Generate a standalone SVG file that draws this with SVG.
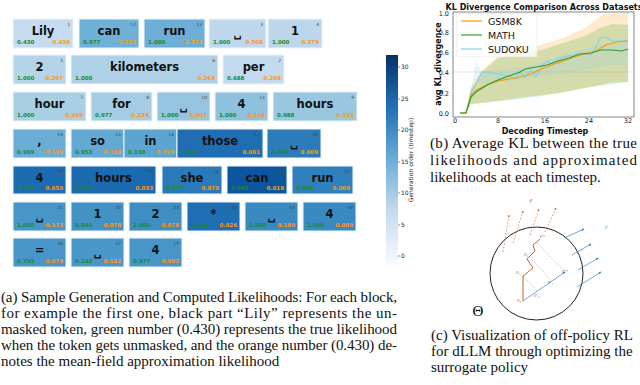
<svg xmlns="http://www.w3.org/2000/svg" width="640" height="385" viewBox="0 0 640 385">
<defs>
<style>
.box{stroke:#eef4fa;stroke-width:1}
.tok{font-family:"DejaVu Sans",sans-serif;font-weight:bold;font-size:11.5px;fill:#111;text-anchor:middle}
.g{font-family:"DejaVu Sans",sans-serif;font-weight:bold;font-size:5.5px;fill:#1a8c1a}
.o{font-family:"DejaVu Sans",sans-serif;font-weight:bold;font-size:5.5px;fill:#ff9900;text-anchor:end}
.i{font-family:"DejaVu Sans",sans-serif;font-size:4.5px;fill:#444;text-anchor:end}
.cap{font-family:"Liberation Serif",serif;font-size:15px;fill:#111}
.tick{font-family:"DejaVu Sans",sans-serif;font-size:6px;fill:#222}
.ptick{font-family:"DejaVu Sans",sans-serif;font-size:6.5px;fill:#222}
.plab{font-family:"DejaVu Sans",sans-serif;font-weight:bold;font-size:8px;fill:#111}
.leg{font-family:"DejaVu Sans",sans-serif;font-size:9.5px;fill:#111}
.sm{font-family:"Liberation Serif",serif;font-style:italic;font-size:5px}
</style>
<linearGradient id="cb" x1="0" y1="1" x2="0" y2="0">
<stop offset="0" stop-color="#f7fbff"/>
<stop offset="0.25" stop-color="#c6dbef"/>
<stop offset="0.5" stop-color="#6baed6"/>
<stop offset="0.75" stop-color="#2171b5"/>
<stop offset="1" stop-color="#08306b"/>
</linearGradient>
<marker id="ab" viewBox="0 0 6 6" refX="5" refY="3" markerWidth="4" markerHeight="4" orient="auto"><path d="M0,0 L6,3 L0,6 z" fill="#3a7fc0"/></marker>
<marker id="ao" viewBox="0 0 6 6" refX="5" refY="3" markerWidth="4" markerHeight="4" orient="auto"><path d="M0,0 L6,3 L0,6 z" fill="#d2691e"/></marker>
</defs>
<rect width="640" height="385" fill="#fff"/>

<!-- (a) token blocks -->
<g id="tokens">
<g id="t1"><rect class="box" x="13" y="19" width="60" height="29" fill="#c6dbef"/><text class="tok" x="43" y="35">Lily</text><text class="g" x="17" y="43.5">0.430</text><text class="o" x="70" y="43.5">0.430</text><text class="i" x="70" y="26">1</text></g>
<g id="t2"><rect class="box" x="79" y="19" width="60" height="29" fill="#6fb0d7"/><text class="tok" x="109" y="35">can</text><text class="g" x="83" y="43.5">0.977</text><text class="o" x="136" y="43.5">0.287</text><text class="i" x="136" y="26">12</text></g>
<g id="t3"><rect class="box" x="144" y="19" width="61" height="29" fill="#6caed6"/><text class="tok" x="174.5" y="35">run</text><text class="g" x="148" y="43.5">1.000</text><text class="o" x="202" y="43.5">0.373</text><text class="i" x="202" y="26">13</text></g>
<g id="t4"><rect class="box" x="209" y="19" width="57" height="29" fill="#bfd8ed"/><text class="tok" x="237.5" y="37">␣</text><text class="g" x="213" y="43.5">1.000</text><text class="o" x="263" y="43.5">0.508</text><text class="i" x="263" y="26">3</text></g>
<g id="t5"><rect class="box" x="268" y="19" width="54" height="29" fill="#bcd7eb"/><text class="tok" x="295" y="35">1</text><text class="g" x="272" y="43.5">1.000</text><text class="o" x="319" y="43.5">0.379</text><text class="i" x="319" y="26">4</text></g>

<g id="t6"><rect class="box" x="13" y="55" width="53" height="29" fill="#b5d4e9"/><text class="tok" x="39.5" y="71">2</text><text class="g" x="17" y="79.5">1.000</text><text class="o" x="63" y="79.5">0.297</text><text class="i" x="63" y="62">5</text></g>
<g id="t7"><rect class="box" x="71" y="55" width="147" height="29" fill="#afd1e7"/><text class="tok" x="144.5" y="71">kilometers</text><text class="g" x="75" y="79.5">1.000</text><text class="o" x="215" y="79.5">0.264</text><text class="i" x="215" y="62">6</text></g>
<g id="t8"><rect class="box" x="223" y="55" width="61" height="29" fill="#c4daee"/><text class="tok" x="253.5" y="71">per</text><text class="g" x="227" y="79.5">0.688</text><text class="o" x="281" y="79.5">0.208</text><text class="i" x="281" y="62">2</text></g>

<g id="t9"><rect class="box" x="13" y="92" width="73" height="29" fill="#a9cfe5"/><text class="tok" x="49.5" y="108">hour</text><text class="g" x="17" y="116.5">1.000</text><text class="o" x="83" y="116.5">0.269</text><text class="i" x="83" y="99">7</text></g>
<g id="t10"><rect class="box" x="91" y="92" width="61" height="29" fill="#a4cce3"/><text class="tok" x="121.5" y="108">for</text><text class="g" x="95" y="116.5">0.977</text><text class="o" x="149" y="116.5">0.234</text><text class="i" x="149" y="99">8</text></g>
<g id="t11"><rect class="box" x="157" y="92" width="53" height="29" fill="#94c4df"/><text class="tok" x="183.5" y="110">␣</text><text class="g" x="161" y="116.5">1.000</text><text class="o" x="207" y="116.5">0.307</text><text class="i" x="207" y="99">10</text></g>
<g id="t12"><rect class="box" x="215" y="92" width="53" height="29" fill="#8dc1dd"/><text class="tok" x="241.5" y="108">4</text><text class="g" x="219" y="116.5">1.000</text><text class="o" x="265" y="116.5">0.146</text><text class="i" x="265" y="99">11</text></g>
<g id="t13"><rect class="box" x="273" y="92" width="84" height="29" fill="#98c7df"/><text class="tok" x="315" y="108">hours</text><text class="g" x="277" y="116.5">0.988</text><text class="o" x="354" y="116.5">0.353</text><text class="i" x="354" y="99">9</text></g>

<g id="t14"><rect class="box" x="13" y="129" width="53" height="29" fill="#6aaed6"/><text class="tok" x="39.5" y="145">,</text><text class="g" x="17" y="153.5">0.969</text><text class="o" x="63" y="153.5">0.199</text><text class="i" x="63" y="136">14</text></g>
<g id="t15"><rect class="box" x="71" y="129" width="53" height="29" fill="#64a9d3"/><text class="tok" x="97.5" y="145">so</text><text class="g" x="75" y="153.5">0.953</text><text class="o" x="121" y="153.5">0.186</text><text class="i" x="121" y="136">15</text></g>
<g id="t16"><rect class="box" x="124" y="129" width="53" height="29" fill="#5da5d1"/><text class="tok" x="150.5" y="145">in</text><text class="g" x="128" y="153.5">0.130</text><text class="o" x="174" y="153.5">0.028</text><text class="i" x="174" y="136">16</text></g>
<g id="t17"><rect class="box" x="177" y="129" width="86" height="29" fill="#1f6eb3"/><text class="tok" x="220" y="145">those</text><text class="g" x="181" y="153.5">0.860</text><text class="o" x="260" y="153.5">0.001</text><text class="i" x="260" y="136">17</text></g>
<g id="t18"><rect class="box" x="267" y="129" width="54" height="29" fill="#2c7cba"/><text class="tok" x="294" y="147">␣</text><text class="g" x="271" y="153.5">0.000</text><text class="o" x="318" y="153.5">0.009</text><text class="i" x="318" y="136">18</text></g>

<g id="t19"><rect class="box" x="13" y="166" width="53" height="28" fill="#1d6cb1"/><text class="tok" x="39.5" y="182">4</text><text class="g" x="17" y="190">1.000</text><text class="o" x="63" y="190">0.050</text><text class="i" x="63" y="173">30</text></g>
<g id="t20"><rect class="box" x="71" y="166" width="85" height="28" fill="#1b69af"/><text class="tok" x="113.5" y="182">hours</text><text class="g" x="75" y="190">0.996</text><text class="o" x="153" y="190">0.033</text><text class="i" x="153" y="173">29</text></g>
<g id="t21"><rect class="box" x="162" y="166" width="60" height="28" fill="#2a7ab9"/><text class="tok" x="192" y="182">she</text><text class="g" x="166" y="190">0.977</text><text class="o" x="219" y="190">0.079</text><text class="i" x="219" y="173">26</text></g>
<g id="t22"><rect class="box" x="227" y="166" width="60" height="28" fill="#0c56a0"/><text class="tok" x="257" y="182">can</text><text class="g" x="231" y="190">0.043</text><text class="o" x="284" y="190">0.018</text><text class="i" x="284" y="173">31</text></g>
<g id="t23"><rect class="box" x="292" y="166" width="61" height="28" fill="#3080bd"/><text class="tok" x="322.5" y="182">run</text><text class="g" x="296" y="190">0.996</text><text class="o" x="350" y="190">0.009</text><text class="i" x="350" y="173">25</text></g>

<g id="t24"><rect class="box" x="13" y="202" width="53" height="29" fill="#4896c8"/><text class="tok" x="39.5" y="220">␣</text><text class="g" x="17" y="226.5">1.000</text><text class="o" x="63" y="226.5">0.173</text><text class="i" x="63" y="209">31</text></g>
<g id="t25"><rect class="box" x="71" y="202" width="53" height="29" fill="#4292c6"/><text class="tok" x="97.5" y="218">1</text><text class="g" x="75" y="226.5">0.844</text><text class="o" x="121" y="226.5">0.078</text><text class="i" x="121" y="209">30</text></g>
<g id="t26"><rect class="box" x="129" y="202" width="53" height="29" fill="#3e8ec4"/><text class="tok" x="155.5" y="218">2</text><text class="g" x="133" y="226.5">1.000</text><text class="o" x="179" y="226.5">0.078</text><text class="i" x="179" y="209">33</text></g>
<g id="t27"><rect class="box" x="187" y="202" width="53" height="29" fill="#1f6eb3"/><text class="tok" x="213.5" y="218">*</text><text class="g" x="191" y="226.5">0.734</text><text class="o" x="237" y="226.5">0.026</text><text class="i" x="237" y="209">32</text></g>
<g id="t28"><rect class="box" x="245" y="202" width="53" height="29" fill="#3a8ac2"/><text class="tok" x="271.5" y="220">␣</text><text class="g" x="249" y="226.5">1.000</text><text class="o" x="295" y="226.5">0.189</text><text class="i" x="295" y="209">33</text></g>
<g id="t29"><rect class="box" x="303" y="202" width="53" height="29" fill="#3a8ac2"/><text class="tok" x="329.5" y="218">4</text><text class="g" x="307" y="226.5">1.000</text><text class="o" x="353" y="226.5">0.089</text><text class="i" x="353" y="209">34</text></g>

<g id="t30"><rect class="box" x="13" y="238" width="53" height="29" fill="#4896c8"/><text class="tok" x="39.5" y="254">=</text><text class="g" x="17" y="262.5">0.793</text><text class="o" x="63" y="262.5">0.079</text><text class="i" x="63" y="245">36</text></g>
<g id="t31"><rect class="box" x="71" y="238" width="53" height="29" fill="#4a98c9"/><text class="tok" x="97.5" y="256">␣</text><text class="g" x="75" y="262.5">0.242</text><text class="o" x="121" y="262.5">0.182</text><text class="i" x="121" y="245">37</text></g>
<g id="t32"><rect class="box" x="129" y="238" width="53" height="29" fill="#4896c8"/><text class="tok" x="155.5" y="254">4</text><text class="g" x="133" y="262.5">0.977</text><text class="o" x="179" y="262.5">0.982</text><text class="i" x="179" y="245">19</text></g>
</g>

<!-- colorbar -->
<g id="colorbar">
<rect x="386" y="55" width="12" height="210" fill="url(#cb)"/>
<g stroke="#222" stroke-width="0.5"><line x1="398" y1="67" x2="400" y2="67"/><line x1="398" y1="99" x2="400" y2="99"/><line x1="398" y1="130" x2="400" y2="130"/><line x1="398" y1="162" x2="400" y2="162"/><line x1="398" y1="193" x2="400" y2="193"/><line x1="398" y1="225" x2="400" y2="225"/><line x1="398" y1="256" x2="400" y2="256"/></g>
<text class="tick" x="401" y="69">30</text><text class="tick" x="401" y="101">25</text><text class="tick" x="401" y="132">20</text><text class="tick" x="401" y="164">15</text><text class="tick" x="401" y="195">10</text><text class="tick" x="401" y="227">5</text><text class="tick" x="401" y="258">0</text>
<text class="tick" transform="translate(413,160) rotate(-90)" text-anchor="middle">Generation order (timestep)</text>
</g>

<!-- (b) plot -->
<g id="plot">
<text class="plab" x="544" y="9.5" text-anchor="middle" font-size="5.8px">KL Divergence Comparison Across Datasets</text>
<line x1="453" y1="72" x2="634" y2="72" stroke="#ccc" stroke-width="0.5"/>
<path d="M460,113 L466,113 L471,87 L482,70 L498,56 L520,50 L541,45 L563,38 L585,28 L600,16 L612,13 L628,13 L628,82 L612,82 L585,88 L563,93 L541,95 L520,97 L498,101 L482,103 L471,104 L466,113 z" fill="#ff9900" fill-opacity="0.2"/>
<path d="M460,113 L466,113 L471,90 L482,72 L498,58 L520,53 L541,50 L563,43 L585,36 L600,28 L612,24 L628,25 L628,82 L612,84 L585,88 L563,92 L541,96 L520,99 L498,101 L482,103 L471,104 L466,113 z" fill="#2ca02c" fill-opacity="0.2"/>
<path d="M471,90 L476,60 L482,72 L498,70 L520,68 L541,62 L563,55 L585,48 L600,45 L612,42 L628,42 L628,65 L612,65 L585,70 L563,74 L541,76 L520,80 L498,82 L482,85 L476,80 L471,100 z" fill="#87ceeb" fill-opacity="0.2"/>
<polyline fill="none" stroke="#87ceeb" stroke-width="1.2" points="460,113 466,113 471,92 476,84 482,72 487,72 498,74 509,76 515,79 520,72 525,77 531,70 536,77 541,67 547,61 552,64 558,59 563,57 574,55 580,53 585,54 591,55 596,47 601,37 606,37 612,41 622,41 628,41"/>
<polyline fill="none" stroke="#ff9900" stroke-width="1.2" points="460,113 466,113 471,95 476,90 487,85 498,81 509,79 520,77 531,74 541,69 552,65 563,61 574,57 585,54 596,51 606,45 617,42 628,41"/>
<polyline fill="none" stroke="#2ca02c" stroke-width="1.2" points="460,113 466,113 471,97 476,92 487,85 498,80 509,76 520,72 525,69 536,67 547,65 558,61 569,58 580,54 591,53 601,50 612,50 622,51 628,49"/>
<rect x="453" y="12" width="181" height="105" fill="none" stroke="#333" stroke-width="0.6"/>
<rect x="457" y="13.5" width="80" height="43.5" fill="#fff" fill-opacity="0.8" stroke="#ddd" stroke-width="0.5"/>
<line x1="461" y1="21" x2="482" y2="21" stroke="#ff9900" stroke-width="1.2"/><text class="leg" x="488" y="24.5">GSM8K</text>
<line x1="461" y1="35" x2="482" y2="35" stroke="#2ca02c" stroke-width="1.2"/><text class="leg" x="488" y="38.5">MATH</text>
<line x1="461" y1="49" x2="482" y2="49" stroke="#87ceeb" stroke-width="1.2"/><text class="leg" x="488" y="52.5">SUDOKU</text>
<text class="ptick" x="449" y="15.5" text-anchor="end">1.0</text>
<text class="ptick" x="449" y="35" text-anchor="end">0.8</text>
<text class="ptick" x="449" y="55" text-anchor="end">0.6</text>
<text class="ptick" x="449" y="75" text-anchor="end">0.4</text>
<text class="ptick" x="449" y="96" text-anchor="end">0.2</text>
<text class="ptick" x="449" y="116" text-anchor="end">0.0</text>
<text class="ptick" x="455" y="123" text-anchor="middle">0</text>
<text class="ptick" x="498" y="123" text-anchor="middle">8</text>
<text class="ptick" x="545" y="123" text-anchor="middle">16</text>
<text class="ptick" x="589" y="123" text-anchor="middle">24</text>
<text class="ptick" x="628" y="123" text-anchor="middle">32</text>
<text class="plab" x="545" y="133.5" text-anchor="middle">Decoding Timestep</text>
<text class="plab" transform="translate(441,64) rotate(-90)" text-anchor="middle" font-size="7.5px">avg KL divergence</text>
</g>

<!-- (c) diagram -->
<g id="surrogate">
<circle cx="536.5" cy="273.5" r="46.5" fill="none" stroke="#222" stroke-width="1"/>
<text x="478" y="316" font-family="Liberation Serif,serif" font-size="15" text-anchor="middle">Θ</text>
<g stroke="#d2691e" stroke-width="0.6" stroke-dasharray="2,1.5" fill="none" marker-end="url(#ao)">
<line x1="503" y1="252" x2="509" y2="215"/><line x1="513" y1="243" x2="523" y2="211"/><line x1="530" y1="235" x2="539" y2="209"/><line x1="545" y1="232" x2="556" y2="208"/>
</g>
<text x="531" y="203" font-family="Liberation Serif,serif" font-style="italic" font-size="7" fill="#d2691e" text-anchor="middle">r̂</text>
<g stroke="#3a7fc0" stroke-width="0.7" fill="none" marker-end="url(#ab)">
<line x1="564" y1="238" x2="584" y2="229"/><line x1="572" y1="255" x2="591" y2="244"/><line x1="578" y1="270" x2="598" y2="258"/><line x1="577" y1="287" x2="601" y2="272"/>
</g>
<text x="605" y="229" font-family="Liberation Serif,serif" font-style="italic" font-size="7" fill="#3a7fc0">r</text>
<g stroke="#888" stroke-width="0.5" stroke-dasharray="1.5,1.5">
<line x1="523" y1="276" x2="537" y2="290"/><line x1="532" y1="260" x2="551" y2="280"/><line x1="537" y1="243" x2="563" y2="270"/>
</g>
<polyline fill="none" stroke="#c8642a" stroke-width="1" points="523,301 523,276 533,268 527,259 535,251 533,245 540,239"/>
<line x1="523" y1="301" x2="565" y2="272" stroke="#3a7fc0" stroke-width="0.7" marker-end="url(#ab)"/>
<g class="sm" fill="#c8642a"><text x="517" y="302">θ₀</text><text x="516" y="274">θ₁</text><text x="524" y="256">θ₂</text><text x="540" y="238">θ*</text></g>
<g class="sm" fill="#3a7fc0"><text x="534" y="297">θ'₂</text><text x="548" y="284">θ'₁</text><text x="562" y="273">θ'*</text></g>
</g>

<!-- captions -->
<g id="captions" class="cap">
<text x="1" y="302" textLength="396" lengthAdjust="spacing">(a) Sample Generation and Computed Likelihoods: For each block,</text>
<text x="1" y="318" textLength="396" lengthAdjust="spacing">for example the first one, black part “Lily” represents the un-</text>
<text x="1" y="334" textLength="396" lengthAdjust="spacing">masked token, green number (0.430) represents the true likelihood</text>
<text x="1" y="350" textLength="396" lengthAdjust="spacing">when the token gets unmasked, and the orange number (0.430) de-</text>
<text x="1" y="366">notes the mean-field approximation likelihood</text>
<text x="430" y="148" textLength="207" lengthAdjust="spacing">(b) Average KL between the true</text>
<text x="430" y="165" textLength="207" lengthAdjust="spacing">likelihoods and approximated</text>
<text x="430" y="182">likelihoods at each timestep.</text>
<text x="431" y="340">(c) Visualization of off-policy RL</text>
<text x="431" y="356">for dLLM through optimizing the</text>
<text x="431" y="372">surrogate policy</text>
</g>
</svg>
